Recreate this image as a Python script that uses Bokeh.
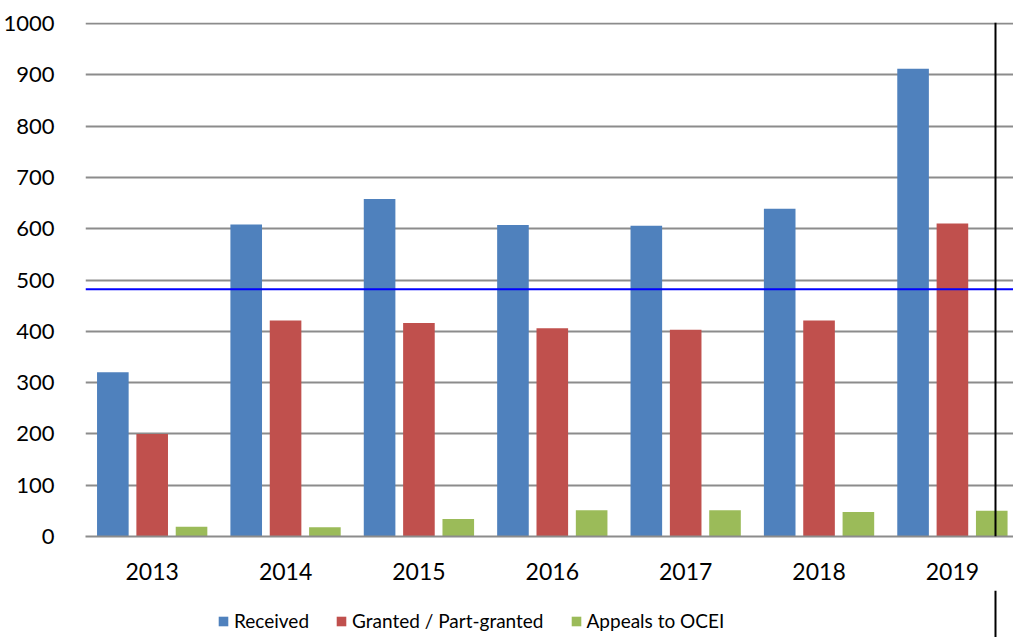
from bokeh.plotting import figure
from bokeh.layouts import column
from bokeh.models import (ColumnDataSource, Range1d, FixedTicker, Span, Legend, LegendItem)
from bokeh.transform import dodge
from bokeh.embed import file_html
from bokeh.resources import INLINE

years = ["2013", "2014", "2015", "2016", "2017", "2018", "2019"]
received = [320, 608, 658, 607, 606, 639, 912]
granted = [200, 421, 416, 406, 403, 421, 610]
appeals = [19, 18, 34, 51, 51, 48, 50]
series_names = ["Received", "Granted / Part-granted", "Appeals to OCEI"]
series_colors = ["#4F81BD", "#C0504D", "#9BBB59"]
y_ticks = [0, 100, 200, 300, 400, 500, 600, 700, 800, 900, 1000]
blue_line_value = 482
black_line_x = 6.823

FONT = "Lato"

xs = [i + 0.5 for i in range(len(years))]
src = ColumnDataSource(dict(x=xs, received=received, granted=granted, appeals=appeals))

xr = Range1d(0, 6.958)
p = figure(width=1013, height=590, output_backend="svg", toolbar_location=None,
           x_range=xr, y_range=Range1d(0, 1002),
           min_border_left=85, min_border_right=0, min_border_top=22, min_border_bottom=54)
p.outline_line_color = None
p.background_fill_color = "white"
p.border_fill_color = "white"

bw = 0.237
off = 0.295
p.vbar(x=dodge("x", -off), top="received", width=bw, source=src,
       fill_color=series_colors[0], line_color=None)
p.vbar(x=dodge("x", 0.0), top="granted", width=bw, source=src,
       fill_color=series_colors[1], line_color=None)
p.vbar(x=dodge("x", off), top="appeals", width=bw, source=src,
       fill_color=series_colors[2], line_color=None)

# axes
p.xaxis.ticker = FixedTicker(ticks=xs)
p.xaxis.major_label_overrides = {x: y for x, y in zip(xs, years)}
p.xaxis.major_tick_line_color = None
p.xaxis.minor_tick_line_color = None
p.xaxis.axis_line_color = "#8C8C8C"
p.xaxis.axis_line_width = 2
p.xaxis.major_label_standoff = 20
p.xaxis.major_label_text_font = FONT
p.xaxis.major_label_text_font_size = "23px"
p.xaxis.major_label_text_color = "black"

p.yaxis.ticker = FixedTicker(ticks=y_ticks)
p.yaxis.major_tick_line_color = None
p.yaxis.minor_tick_line_color = None
p.yaxis.axis_line_color = None
p.yaxis.major_label_standoff = 25
p.yaxis.major_label_text_font = FONT
p.yaxis.major_label_text_font_size = "22px"
p.yaxis.major_label_text_color = "black"

p.xgrid.grid_line_color = None
p.ygrid.ticker = FixedTicker(ticks=y_ticks[1:])
p.ygrid.grid_line_color = "#8C8C8C"
p.ygrid.grid_line_width = 2

p.add_layout(Span(location=blue_line_value, dimension="width", line_color="#0000FF", line_width=2))
p.add_layout(Span(location=black_line_x, dimension="height", line_color="black", line_width=2))

# legend strip (separate small figure below the chart, frame aligned with the chart)
pl = figure(width=1013, height=47, output_backend="svg", toolbar_location=None,
            x_range=xr, y_range=Range1d(0, 1),
            x_axis_type=None, y_axis_type=None,
            min_border_left=85, min_border_right=0, min_border_top=0, min_border_bottom=0)
pl.outline_line_color = None
pl.xgrid.visible = False
pl.ygrid.visible = False
items = []
for name, color in zip(series_names, series_colors):
    r = pl.vbar(x=[1.0], top=[0.0], width=0.1, fill_color=color, line_color=None)
    items.append(LegendItem(label=name, renderers=[r]))
pl.add_layout(Span(location=black_line_x, dimension="height", line_color="black", line_width=2))

legend = Legend(items=items, orientation="horizontal", location=(132, 5),
                glyph_width=12, glyph_height=12, label_standoff=5, spacing=26,
                padding=0, margin=0, border_line_color=None, background_fill_alpha=0,
                label_text_font=FONT, label_text_font_size="19px", label_text_color="black")
pl.add_layout(legend, "center")

layout = column(p, pl, spacing=0)
open("out.html", "w").write(file_html(layout, INLINE))
